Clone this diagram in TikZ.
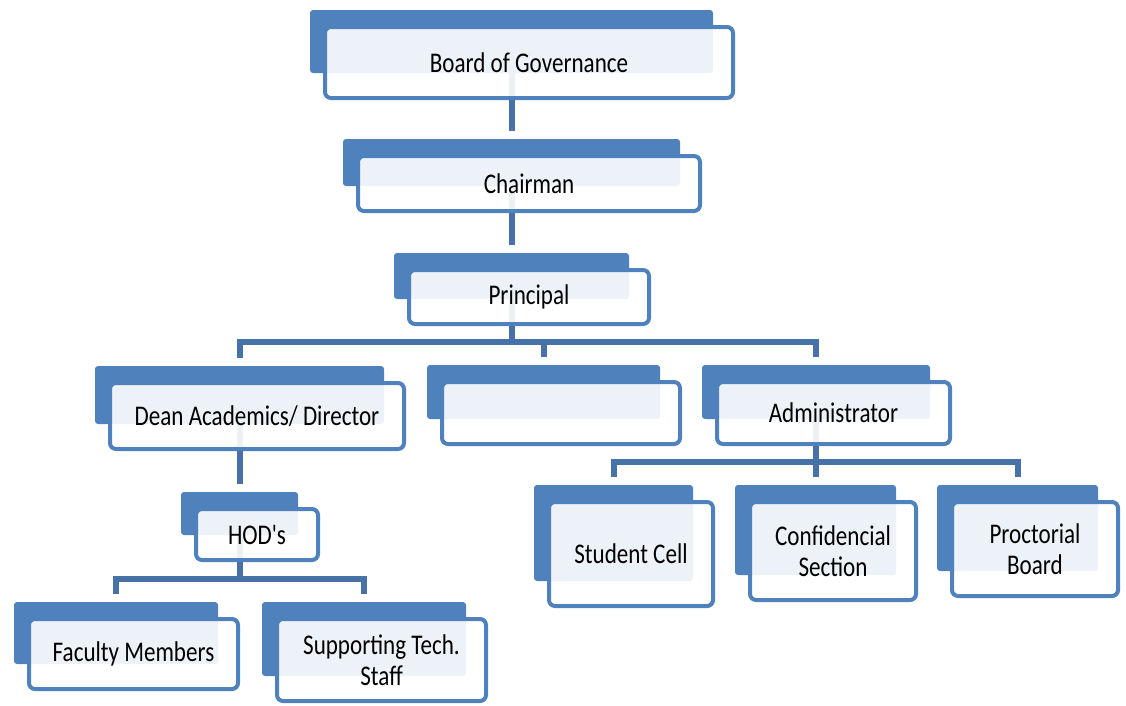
\documentclass[tikz,border=0pt]{standalone}
\usepackage{fontspec}
\newfontfamily\orgfont{Carlito}[FakeStretch=0.81]
\usepackage{xcolor}
\definecolor{orgblue}{RGB}{79,129,189}
\definecolor{linkblue}{RGB}{70,114,168}
\pgfdeclarelayer{links}
\pgfdeclarelayer{background}
\pgfsetlayers{links,background,main}
\tikzset{
  unitbox/.style={draw=orgblue, line width=4pt, rounded corners=6pt, fill=white, fill opacity=0.9, text opacity=1,
    align=center, inner sep=0pt, outer sep=0pt, text=black, font=\orgfont\fontsize{28.5}{31}\selectfont},
  backbox/.style={fill=orgblue, rounded corners=3pt, inner sep=0pt, outer sep=0pt},
  link/.style={draw=linkblue, line width=6pt}
}

\begin{document}
\begin{tikzpicture}[x=1pt,y=-1pt]
  \useasboundingbox (0,0) rectangle (1126,705);
  \foreach \n/\x/\y/\w/\h/\t in {board/529/62.5/412/75/{Board of Governance},
      chair/529/183.5/346/59/{Chairman}, princ/529/297/244/58/{Principal},
      dean/257/416/298/70/{Dean Academics/ Director}, mid/561/413/242/66/{},
      admin/833.5/413/237/66/{Administrator}, hod/257/534.5/126/55/{HOD's},
      fac/133.5/654/213/74/{Faculty Members}, sup/381.5/660/213/86/{Supporting Tech.\\Staff},
      stud/631/554/168/108/{Student Cell}, conf/833/551/170/102/{Confidencial\\Section},
      proc/1035/549/170/98/{Proctorial\\Board}}{
    \node[unitbox, minimum width=\w pt-4pt, minimum height=\h pt-4pt] (\n) at (\x,\y) {\t};
    \begin{pgfonlayer}{background}
      \node[backbox, minimum width=\w pt-9pt, minimum height=\h pt-12pt] (\n-b) at ([xshift=-17.5pt,yshift=21pt]\n.center) {};
    \end{pgfonlayer}
  }
  \coordinate (pbar) at (0,342);
  \coordinate (hbar) at (0,579);
  \coordinate (abar) at (0,462);
  \begin{pgfonlayer}{links}
    \draw[link] (board-b.south) -- ([yshift=8pt]chair-b.north);
    \draw[link] (chair-b.south) -- ([yshift=8pt]princ-b.north);
    % principal to the three below
    \draw[link] (princ-b.south) -- (princ-b.south |- pbar);
    \draw[link] ([yshift=8pt]dean-b.north) |- (admin-b.north |- pbar) -- ([yshift=8pt]admin-b.north);
    \draw[link] (mid-b.north |- pbar) -- ([yshift=8pt]mid-b.north);
    % dean and HOD's
    \draw[link] (dean-b.south) -- ([yshift=8pt]hod-b.north);
    \draw[link] (hod-b.south) -- (hod-b.south |- hbar);
    \draw[link] ([yshift=8pt]fac-b.north) |- (sup-b.north |- hbar) -- ([yshift=8pt]sup-b.north);
    % administrator
    \draw[link] (admin-b.south) -- (admin-b.south |- abar);
    \draw[link] ([yshift=8pt]stud-b.north) |- (proc-b.north |- abar) -- ([yshift=8pt]proc-b.north);
    \draw[link] (conf-b.north |- abar) -- ([yshift=8pt]conf-b.north);
  \end{pgfonlayer}
\end{tikzpicture}
\end{document}
